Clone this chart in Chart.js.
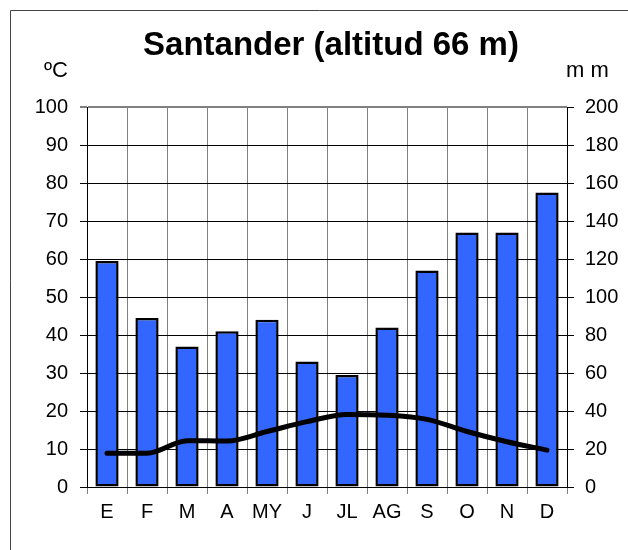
<!DOCTYPE html>
<html>
<head>
<meta charset="utf-8">
<script src="https://cdn.jsdelivr.net/npm/chart.js@4"></script>
<style>
  html, body { margin: 0; padding: 0; background: #fff; }
  #wrap { width: 628px; height: 550px; position: relative; }
</style>
</head>
<body>
<div id="wrap"><canvas id="climograma"></canvas></div>
<script>
// datos del climograma
const meses = ['E', 'F', 'M', 'A', 'MY', 'J', 'JL', 'AG', 'S', 'O', 'N', 'D'];
const precipitacion = [119, 89, 74, 82, 88, 66, 59, 84, 114, 134, 134, 155]; // mm
const temperatura = [8.9, 8.9, 12.2, 12.1, 14.6, 17.2, 19.1, 18.9, 17.8, 14.6, 11.9, 9.7]; // ºC
const titulo = 'Santander (altitud 66 m)';

const fuente = "'Liberation Sans', Arial, sans-serif";

// marco, titulo y unidades
const decoracion = {
  id: 'decoracion',
  afterDraw(chart) {
    const ctx = chart.ctx;
    ctx.save();
    ctx.strokeStyle = '#444';
    ctx.lineWidth = 1;
    ctx.beginPath();
    ctx.moveTo(10.5, 550);
    ctx.lineTo(10.5, 10.5);
    ctx.lineTo(628, 10.5);
    ctx.stroke();

    ctx.fillStyle = '#000';
    ctx.font = '22px ' + fuente;
    ctx.textBaseline = 'middle';
    ctx.textAlign = 'right';
    ctx.fillText('ºC', 68, 71);
    ctx.textAlign = 'left';
    ctx.fillText('m m', 566, 71);

    ctx.font = 'bold 33px ' + fuente;
    ctx.textAlign = 'center';
    ctx.textBaseline = 'alphabetic';
    ctx.fillText(titulo, 331, 55);
    ctx.restore();
  }
};

new Chart(document.getElementById('climograma'), {
  type: 'bar',
  data: {
    labels: meses,
    datasets: [
      {
        type: 'line',
        label: 'Temperatura',
        data: temperatura,
        yAxisID: 'yT',
        borderColor: '#000',
        borderWidth: 5,
        borderCapStyle: 'round',
        borderJoinStyle: 'round',
        pointRadius: 0,
        cubicInterpolationMode: 'monotone',
        fill: false,
        order: 0,
      },
      {
        type: 'bar',
        label: 'Precipitación',
        data: precipitacion,
        yAxisID: 'yP',
        backgroundColor: '#3366FF',
        borderColor: '#000',
        borderWidth: 2.5,
        borderSkipped: false,
        barPercentage: 0.58,
        categoryPercentage: 1,
        order: 1,
      },
    ],
  },
  options: {
    responsive: true,
    maintainAspectRatio: false,
    animation: false,
    layout: { padding: { top: 107, left: 0, right: 0, bottom: 0 } },
    plugins: {
      legend: { display: false },
      title: { display: false },
      tooltip: { enabled: false },
    },
    scales: {
      x: {
        offset: true,
        grid: {
          offset: true,
          color: '#808080',
          lineWidth: 1,
          tickLength: 7,
          drawTicks: true,
        },
        border: { color: '#000', width: 1 },
        ticks: {
          color: '#000',
          font: { family: fuente, size: 20 },
          padding: 6,
          maxRotation: 0,
        },
        afterFit(scale) { scale.height = 63; },
      },
      yT: {
        position: 'left',
        min: 0,
        max: 100,
        ticks: {
          stepSize: 10,
          color: '#000',
          font: { family: fuente, size: 20 },
          padding: 12,
        },
        grid: {
          color: ctx => (ctx.tick && ctx.tick.value === 100 ? '#808080' : '#000'),
          lineWidth: ctx => (ctx.tick && ctx.tick.value === 100 ? 2 : 1),
          tickLength: 7,
        },
        border: { color: '#000', width: 1 },
        afterFit(scale) { scale.width = 87; },
      },
      yP: {
        position: 'right',
        min: 0,
        max: 200,
        ticks: {
          stepSize: 20,
          color: '#000',
          font: { family: fuente, size: 20 },
          padding: 11,
        },
        grid: {
          drawOnChartArea: false,
          color: '#000',
          tickLength: 7,
        },
        border: { color: '#000', width: 1 },
        afterFit(scale) { scale.width = 61; },
      },
    },
  },
  plugins: [decoracion],
});
</script>
</body>
</html>
